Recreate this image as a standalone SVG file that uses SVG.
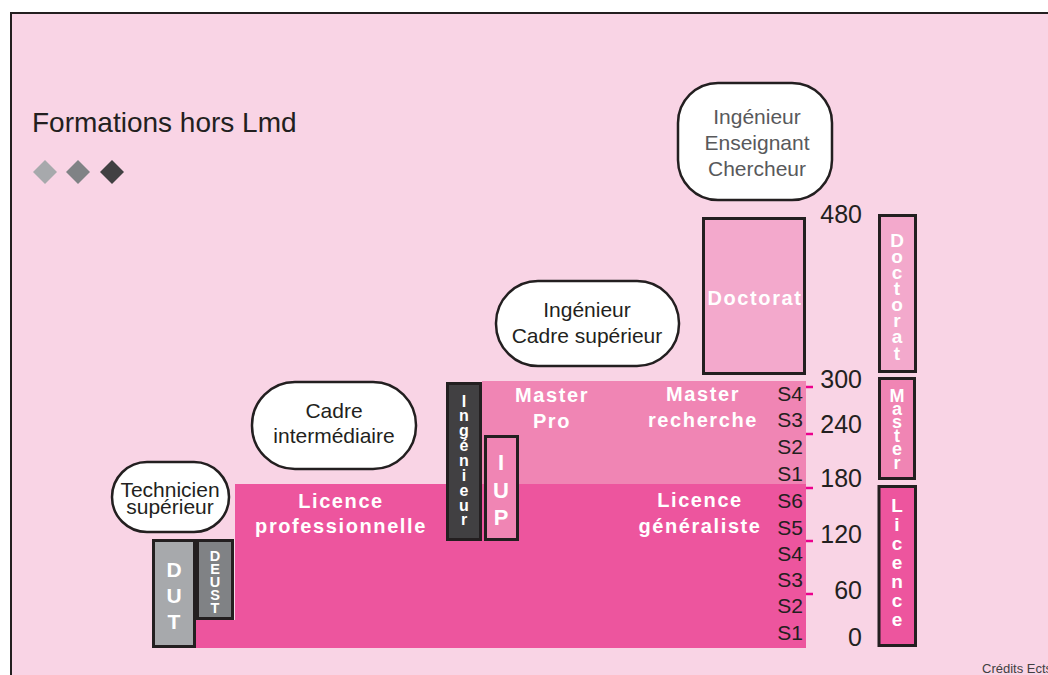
<svg xmlns="http://www.w3.org/2000/svg" width="1048" height="675" viewBox="0 0 1048 675">
<style>
.bub{fill:#fff;stroke:#231f20;stroke-width:2.5}
.box{stroke:#231f20;stroke-width:3}
.bt{font-family:"Liberation Sans",Arial,sans-serif;font-size:21px;fill:#231f20;text-anchor:middle}
.wb{font-family:"Liberation Sans",Arial,sans-serif;font-weight:bold;font-size:20px;fill:#fff;text-anchor:middle;letter-spacing:1.6px}
.vl{font-family:"Liberation Sans",Arial,sans-serif;font-weight:bold;fill:#fff;text-anchor:middle}
.num{font-family:"Liberation Sans",Arial,sans-serif;font-size:25px;fill:#231f20;text-anchor:end}
.sem{font-family:"Liberation Sans",Arial,sans-serif;font-size:21px;fill:#231f20;text-anchor:end}
.tick{stroke:#ec008c;stroke-width:2.5}
</style>
<rect x="0" y="0" width="1048" height="675" fill="#fff"/>
<rect x="11" y="13" width="1100" height="700" fill="#f9d4e5" stroke="#231f20" stroke-width="2"/>
<g id="title">
<text x="32" y="132" font-family="'Liberation Sans',Arial,sans-serif" font-size="28" fill="#231f20">Formations hors Lmd</text>
<polygon points="45,160 57,172 45,184 33,172" fill="#a7a9ac"/>
<polygon points="78,160 90,172 78,184 66,172" fill="#808285"/>
<polygon points="112,160 124,172 112,184 100,172" fill="#414042"/>
</g>
<g id="licence">
<polygon points="235,484 806,484 806,648 196,648 196,620 235,620" fill="#ed559e"/>
<text class="wb" x="341" y="508">Licence</text>
<text class="wb" x="341" y="533">professionnelle</text>
<text class="wb" x="700" y="507">Licence</text>
<text class="wb" x="700" y="533">généraliste</text>
</g>
<g id="master">
<rect x="482" y="381" width="324" height="103" fill="#f085b4"/>
<text class="wb" x="552" y="402">Master</text>
<text class="wb" x="552" y="428">Pro</text>
<text class="wb" x="703" y="401">Master</text>
<text class="wb" x="703" y="427">recherche</text>
</g>
<g id="doctorat">
<rect class="box" x="703.5" y="218.5" width="101" height="155" fill="#f3a9cc"/>
<text class="wb" x="755" y="305" letter-spacing="2.2">Doctorat</text>
</g>
<g id="ingenieur">
<rect class="box" x="447.5" y="383.5" width="33" height="156" fill="#414042"/>
<g class="vl" font-size="16">
<text x="464" y="407">I</text><text x="464" y="421">n</text><text x="464" y="436">g</text><text x="464" y="451">é</text><text x="464" y="466">n</text><text x="464" y="481">i</text><text x="464" y="496">e</text><text x="464" y="511">u</text><text x="464" y="525">r</text>
</g>
</g>
<g id="iup">
<rect class="box" x="485.5" y="436.5" width="32" height="103" fill="#f085b4"/>
<g class="vl" font-size="22">
<text x="501" y="470">I</text><text x="501" y="498">U</text><text x="501" y="525">P</text>
</g>
</g>
<g id="dut">
<rect class="box" x="153.5" y="540.5" width="41" height="106" fill="#a7a9ac"/>
<g class="vl" font-size="21">
<text x="174" y="577">D</text><text x="174" y="603">U</text><text x="174" y="629">T</text>
</g>
</g>
<g id="deust">
<rect class="box" x="197.5" y="540.5" width="35" height="78" fill="#808285"/>
<g class="vl" font-size="14.5">
<text x="215" y="561">D</text><text x="215" y="574">E</text><text x="215" y="587">U</text><text x="215" y="600">S</text><text x="215" y="613">T</text>
</g>
</g>
<g id="bubble-technicien">
<rect class="bub" x="112" y="462" width="117" height="70" rx="35"/>
<text class="bt" x="170" y="497" font-size="19">Technicien</text>
<text class="bt" x="170" y="514" font-size="19">supérieur</text>
</g>
<g id="bubble-cadre-intermediaire">
<rect class="bub" x="252" y="382" width="164" height="87" rx="43"/>
<text class="bt" x="334" y="418">Cadre</text>
<text class="bt" x="334" y="443">intermédiaire</text>
</g>
<g id="bubble-cadre-superieur">
<rect class="bub" x="496" y="281" width="183" height="85" rx="42"/>
<text class="bt" x="587" y="317">Ingénieur</text>
<text class="bt" x="587" y="343">Cadre supérieur</text>
</g>
<g id="bubble-chercheur">
<rect class="bub" x="678" y="83" width="154" height="117" rx="40"/>
<text class="bt" x="757" y="124" style="fill:#58595b">Ingénieur</text>
<text class="bt" x="757" y="150" style="fill:#58595b">Enseignant</text>
<text class="bt" x="757" y="176" style="fill:#58595b">Chercheur</text>
</g>
<g id="semestres">
<text class="sem" x="803" y="401">S4</text>
<text class="sem" x="803" y="427">S3</text>
<text class="sem" x="803" y="454">S2</text>
<text class="sem" x="803" y="481">S1</text>
<text class="sem" x="803" y="508">S6</text>
<text class="sem" x="803" y="535">S5</text>
<text class="sem" x="803" y="561">S4</text>
<text class="sem" x="803" y="587">S3</text>
<text class="sem" x="803" y="613">S2</text>
<text class="sem" x="803" y="640">S1</text>
</g>
<g id="connectors">
<line class="tick" x1="806" y1="387" x2="813" y2="387"/>
<line class="tick" x1="806" y1="434" x2="813" y2="434"/>
<line class="tick" x1="806" y1="488" x2="813" y2="488"/>
<line class="tick" x1="806" y1="541" x2="813" y2="541"/>
<line class="tick" x1="806" y1="594" x2="813" y2="594"/>
</g>
<g id="scale">
<text class="num" x="862" y="223">480</text>
<text class="num" x="862" y="388">300</text>
<text class="num" x="862" y="433">240</text>
<text class="num" x="862" y="487">180</text>
<text class="num" x="862" y="543">120</text>
<text class="num" x="862" y="599">60</text>
<text class="num" x="862" y="646">0</text>
</g>
<g id="bar-doctorat">
<rect class="box" x="879.5" y="215.5" width="36" height="156" fill="#f3a9cc"/>
<g class="vl" font-size="19">
<text x="897" y="247">D</text><text x="897" y="263">o</text><text x="897" y="279">c</text><text x="897" y="295">t</text><text x="897" y="311">o</text><text x="897" y="327">r</text><text x="897" y="343">a</text><text x="897" y="360">t</text>
</g>
</g>
<g id="bar-master">
<rect class="box" x="879.5" y="378.5" width="35" height="100" fill="#f085b4"/>
<g class="vl" font-size="18">
<text x="897" y="402">M</text><text x="897" y="415">a</text><text x="897" y="428">s</text><text x="897" y="442">t</text><text x="897" y="455">e</text><text x="897" y="469">r</text>
</g>
</g>
<g id="bar-licence">
<rect class="box" x="879" y="486.5" width="36.5" height="159" fill="#ed559e"/>
<g class="vl" font-size="19">
<text x="897" y="512">L</text><text x="897" y="531">i</text><text x="897" y="550">c</text><text x="897" y="569">e</text><text x="897" y="588">n</text><text x="897" y="607">c</text><text x="897" y="626">e</text>
</g>
</g>
<text x="982" y="673" font-family="'Liberation Sans',Arial,sans-serif" font-size="13" fill="#414042">Crédits Ects</text>
</svg>
